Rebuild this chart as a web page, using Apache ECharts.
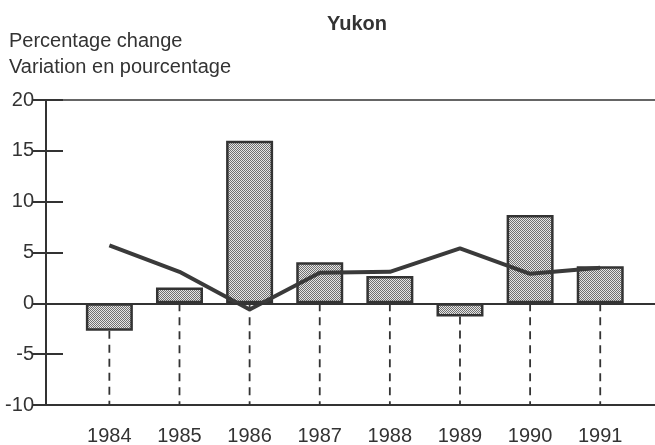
<!DOCTYPE html>
<html>
<head>
<meta charset="utf-8">
<script src="https://cdn.jsdelivr.net/npm/echarts@6/dist/echarts.min.js"></script>
<style>html,body{margin:0;padding:0;background:#fff;}#c{width:655px;height:445px;}</style>
</head>
<body>
<div id="c"></div>
<script>
var years = ['1984','1985','1986','1987','1988','1989','1990','1991'];
var barValues = [-2.7, 1.55, 16.0, 4.05, 2.7, -1.3, 8.7, 3.65];
var lineValues = [5.7, 3.1, -0.6, 3.0, 3.1, 5.4, 2.9, 3.5];
var yTicks = [-10, -5, 0, 5, 10, 15, 20];
var title = 'Yukon';
var yTitle1 = 'Percentage change';
var yTitle2 = 'Variation en pourcentage';

var pc = document.createElement('canvas');
pc.width = 2; pc.height = 2;
var ctx = pc.getContext('2d');
ctx.fillStyle = '#e6e6e6'; ctx.fillRect(0,0,2,2);
ctx.fillStyle = '#707070'; ctx.fillRect(0,0,1,1); ctx.fillRect(1,1,1,1);

var font = '"Liberation Sans", Arial, sans-serif';
var txt = '#333';
var chart = echarts.init(document.getElementById('c'), null, {renderer:'canvas'});
var yMin = yTicks[0], yMax = yTicks[yTicks.length-1];
chart.setOption({
  animation: false,
  backgroundColor: '#fff',
  title: [
    {text: title, left: 352, top: 9, textAlign: 'center', textStyle: {fontFamily: font, fontSize: 20, fontWeight: 'bold', color: '#333'}},
    {text: yTitle1 + '\n' + yTitle2, left: 4, top: 23, textStyle: {fontFamily: font, fontSize: 20, fontWeight: 'normal', color: txt, lineHeight: 26}}
  ],
  grid: [
    {left: 46, right: 0, top: 100, bottom: 40, containLabel: false, outerBoundsMode: 'none'},
    {left: 74.3, right: 19.7, top: 100, bottom: 40, containLabel: false, outerBoundsMode: 'none'}
  ],
  xAxis: [
    {gridIndex: 0, type: 'value', min: 0, max: 1, position: 'bottom', axisLine: {show: true, onZero: false, lineStyle: {color: '#333', width: 2}}, axisTick: {show: false}, axisLabel: {show: false}, splitLine: {show: false}},
    {gridIndex: 0, type: 'value', min: 0, max: 1, position: 'top', axisLine: {show: true, onZero: false, lineStyle: {color: '#333', width: 1.5}}, axisTick: {show: false}, axisLabel: {show: false}, splitLine: {show: false}},
    {gridIndex: 1, type: 'category', data: years, position: 'bottom', axisLine: {show: false, onZero: false}, axisTick: {show: false}, axisLabel: {fontFamily: font, fontSize: 20, color: txt, margin: 21}, splitLine: {show: false}}
  ],
  yAxis: [
    {gridIndex: 0, type: 'value', min: yMin, max: yMax, interval: 5, position: 'left', axisLine: {show: true, lineStyle: {color: '#333', width: 2}}, axisTick: {show: true, inside: true, length: 17, lineStyle: {color: '#333', width: 2}}, axisLabel: {fontFamily: font, fontSize: 20, color: txt, margin: 12}, splitLine: {show: false}},
    {gridIndex: 0, type: 'value', min: yMin, max: yMax, interval: 5, position: 'right', axisLine: {show: false}, axisTick: {show: true, inside: true, length: 14, lineStyle: {color: '#333', width: 2}}, axisLabel: {show: false}, splitLine: {show: false}},
    {gridIndex: 1, type: 'value', min: yMin, max: yMax, interval: 5, show: false}
  ],
  series: [
    {type: 'line', xAxisIndex: 0, yAxisIndex: 0, data: [], silent: true,
     markLine: {silent: true, symbol: 'none', label: {show: false}, lineStyle: {color: '#333', width: 2, type: 'solid'}, data: [{yAxis: 0}]}},
    {type: 'custom', xAxisIndex: 2, yAxisIndex: 2, data: barValues.map(function(v,i){return [i, v];}), z: 1,
     renderItem: function(params, api){
       var i = api.value(0), v = api.value(1);
       var p1 = api.coord([i, Math.min(v, 0)]);
       var p2 = api.coord([i, yMin]);
       return {type: 'line', shape: {x1: p1[0], y1: p1[1], x2: p2[0], y2: p2[1]}, style: {stroke: '#333', lineWidth: 1.8, lineDash: [8, 6]}};
     }},
    {type: 'bar', xAxisIndex: 2, yAxisIndex: 2, data: barValues, barWidth: 47, z: 2,
     itemStyle: {color: {image: pc, repeat: 'repeat'}, borderColor: '#333', borderWidth: 2.5}},
    {type: 'line', xAxisIndex: 2, yAxisIndex: 2, data: lineValues, z: 3, symbol: 'none',
     lineStyle: {color: '#3a3a3a', width: 4}}
  ]
});
</script>
</body>
</html>
